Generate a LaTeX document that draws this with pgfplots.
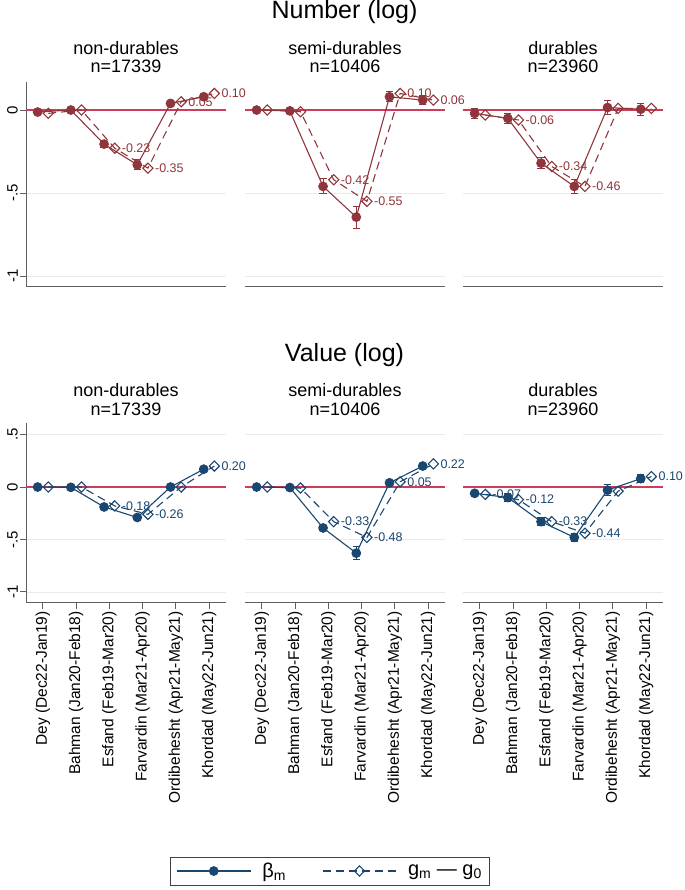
\documentclass[border=0pt]{standalone}
\usepackage{fontspec}
\setmainfont{Liberation Sans}
\usepackage{pgfplots}
\pgfplotsset{compat=1.18}
\definecolor{cran}{RGB}{144,53,59}
\definecolor{nav}{RGB}{26,71,111}
\definecolor{zred}{RGB}{205,60,90}
\definecolor{axgray}{RGB}{95,95,95}
\definecolor{gridgray}{RGB}{234,234,234}
\pgfplotsset{
  panel/.style={scale only axis, width=200bp, clip=false, xmin=0.49, xmax=6.51,
    axis x line*=bottom, axis y line*=left,
    x axis line style={-, draw=axgray, line width=1bp},
    y axis line style={-, draw=axgray, line width=1bp},
    tick align=outside, major tick length=6bp,
    tick style={draw=axgray, line width=1bp},
    ymajorgrids, grid style={draw=gridgray, line width=0.8bp},
    yticklabel style={rotate=90, anchor=south, font=\fontsize{15bp}{17bp}\selectfont, inner sep=2bp},
    xticklabel style={rotate=90, anchor=east, font=\fontsize{15.5bp}{17bp}\selectfont, inner sep=2bp},
  },
  toprow/.style={height=205bp, ymin=-1.066, ymax=0.169, ytick={-1,-0.5,0}, xtick=\empty},
  botrow/.style={height=180bp, ymin=-1.105, ymax=0.61, ytick={-1,-0.5,0,0.5}, xtick={1,2,3,4,5,6},
    xticklabels={Dey (Dec22-Jan19),Bahman (Jan20-Feb18),Esfand (Feb19-Mar20),Farvardin (Mar21-Apr20),Ordibehesht (Apr21-May21),Khordad (May22-Jun21)}},
  leftcoltop/.style={yticklabels={-1,-.5,0}},
  leftcolbot/.style={yticklabels={-1,-.5,0,.5}},
  othercol/.style={y axis line style={draw=none}, ytick style={draw=none}, yticklabels={}},
  zline/.style={zred, line width=1.2bp, forget plot},
  bser/.style={#1, line width=1.1bp, mark=*, mark size=4.3bp, mark options={solid, fill=#1},
    error bars/.cd, y dir=both, y explicit, error bar style={line width=1bp, #1},
    error mark options={rotate=90, mark size=3.6bp, line width=1bp, #1}},
  gser/.style={#1, line width=1.1bp, dash pattern=on 8bp off 5bp, mark=square, mark size=3.6bp,
    mark options={solid, rotate=45, fill=white, line width=1.1bp}},
  labs/.style={draw=none, mark=none, nodes near coords, point meta=explicit symbolic,
    nodes near coords style={anchor=west, text=#1, font=\fontsize{12.5bp}{14bp}\selectfont, inner sep=1bp, xshift=6bp}},
}
\begin{document}
\begin{tikzpicture}
\path[use as bounding box] (0bp,0bp) rectangle (685bp,890bp);
% titles
\node[anchor=base, font=\fontsize{25bp}{28bp}\selectfont] at (344.5bp,871.5bp) {Number (log)};
\node[anchor=base, font=\fontsize{25bp}{28bp}\selectfont] at (344.5bp,528bp) {Value (log)};
\foreach \cx/\nm/\nn in {126/non-durables/17339, 345/semi-durables/10406, 563/durables/23960}{
  \node[anchor=base, font=\fontsize{18bp}{20bp}\selectfont] at (\cx bp,835bp) {\nm};
  \node[anchor=base, font=\fontsize{18bp}{20bp}\selectfont] at (\cx bp,817bp) {n=\nn};
  \node[anchor=base, font=\fontsize{18bp}{20bp}\selectfont] at (\cx bp,493bp) {\nm};
  \node[anchor=base, font=\fontsize{18bp}{20bp}\selectfont] at (\cx bp,474bp) {n=\nn};
}
% ---------------- Top row: Number (log)
\begin{axis}[panel, toprow, leftcoltop, at={(26bp,603bp)}, anchor=south west]
\addplot[zline] coordinates {(0.49,0) (6.51,0)};
\addplot[bser=cran] coordinates {(0.84,-0.012) +- (0,0.012) (1.84,0.000) +- (0,0.01) (2.84,-0.205) +- (0,0.018) (3.84,-0.33) +- (0,0.03) (4.84,0.04) +- (0,0.018) (5.84,0.08) +- (0,0.018)};
\addplot[gser=cran] coordinates {(1.16,-0.02) (2.16,0.0) (3.16,-0.23) (4.16,-0.35) (5.16,0.05) (6.16,0.10)};
\addplot[labs=cran] coordinates {(3.16,-0.23) [-0.23] (4.16,-0.35) [-0.35] (5.16,0.05) [0.05] (6.16,0.10) [0.10]};
\end{axis}
\begin{axis}[panel, toprow, othercol, at={(245bp,603bp)}, anchor=south west]
\addplot[zline] coordinates {(0.49,0) (6.51,0)};
\addplot[bser=cran] coordinates {(0.84,0) +- (0,0.008) (1.84,-0.005) +- (0,0.01) (2.84,-0.46) +- (0,0.045) (3.84,-0.645) +- (0,0.066) (4.84,0.08) +- (0,0.03) (5.84,0.06) +- (0,0.025)};
\addplot[gser=cran] coordinates {(1.16,0) (2.16,-0.01) (3.16,-0.42) (4.16,-0.55) (5.16,0.10) (6.16,0.06)};
\addplot[labs=cran] coordinates {(3.16,-0.42) [-0.42] (4.16,-0.55) [-0.55] (5.16,0.10) [0.10] (6.16,0.06) [0.06]};
\end{axis}
\begin{axis}[panel, toprow, othercol, at={(463bp,603bp)}, anchor=south west]
\addplot[zline] coordinates {(0.49,0) (6.51,0)};
\addplot[bser=cran] coordinates {(0.84,-0.02) +- (0,0.03) (1.84,-0.05) +- (0,0.03) (2.84,-0.32) +- (0,0.035) (3.84,-0.46) +- (0,0.04) (4.84,0.015) +- (0,0.04) (5.84,0.005) +- (0,0.035)};
\addplot[gser=cran] coordinates {(1.16,-0.03) (2.16,-0.06) (3.16,-0.34) (4.16,-0.46) (5.16,0.01) (6.16,0.01)};
\addplot[labs=cran] coordinates {(2.16,-0.06) [-0.06] (3.16,-0.34) [-0.34] (4.16,-0.46) [-0.46]};
\end{axis}
% ---------------- Bottom row: Value (log)
\begin{axis}[panel, botrow, leftcolbot, at={(26bp,287bp)}, anchor=south west]
\addplot[zline] coordinates {(0.49,0) (6.51,0)};
\addplot[bser=nav] coordinates {(0.84,0) +- (0,0.008) (1.84,-0.003) +- (0,0.008) (2.84,-0.19) +- (0,0.015) (3.84,-0.29) +- (0,0.02) (4.84,0.0) +- (0,0.015) (5.84,0.17) +- (0,0.02)};
\addplot[gser=nav] coordinates {(1.16,0) (2.16,0) (3.16,-0.18) (4.16,-0.26) (5.16,0.0) (6.16,0.20)};
\addplot[labs=nav] coordinates {(3.16,-0.18) [-0.18] (4.16,-0.26) [-0.26] (6.16,0.20) [0.20]};
\end{axis}
\begin{axis}[panel, botrow, othercol, at={(245bp,287bp)}, anchor=south west]
\addplot[zline] coordinates {(0.49,0) (6.51,0)};
\addplot[bser=nav] coordinates {(0.84,0) +- (0,0.008) (1.84,-0.005) +- (0,0.008) (2.84,-0.39) +- (0,0.02) (3.84,-0.63) +- (0,0.065) (4.84,0.04) +- (0,0.025) (5.84,0.20) +- (0,0.02)};
\addplot[gser=nav] coordinates {(1.16,0) (2.16,-0.01) (3.16,-0.33) (4.16,-0.48) (5.16,0.05) (6.16,0.22)};
\addplot[labs=nav] coordinates {(3.16,-0.33) [-0.33] (4.16,-0.48) [-0.48] (5.16,0.05) [0.05] (6.16,0.22) [0.22]};
\end{axis}
\begin{axis}[panel, botrow, othercol, at={(463bp,287bp)}, anchor=south west]
\addplot[zline] coordinates {(0.49,0) (6.51,0)};
\addplot[bser=nav] coordinates {(0.84,-0.06) +- (0,0.03) (1.84,-0.10) +- (0,0.04) (2.84,-0.33) +- (0,0.04) (3.84,-0.48) +- (0,0.04) (4.84,-0.03) +- (0,0.05) (5.84,0.08) +- (0,0.04)};
\addplot[gser=nav] coordinates {(1.16,-0.07) (2.16,-0.12) (3.16,-0.33) (4.16,-0.44) (5.16,-0.04) (6.16,0.10)};
\addplot[labs=nav] coordinates {(1.16,-0.07) [-0.07] (2.16,-0.12) [-0.12] (3.16,-0.33) [-0.33] (4.16,-0.44) [-0.44] (6.16,0.10) [0.10]};
\end{axis}
% ---------------- Legend
\begin{axis}[at={(0bp,0bp)}, anchor=south west, scale only axis, width=685bp, height=890bp,
  xmin=0, xmax=1, ymin=0, ymax=1, hide axis,
  legend columns=2,
  legend image code/.code={\draw[mark repeat=2, mark phase=2, #1] plot coordinates {(0bp,0bp) (37bp,0bp) (74bp,0bp)};},
  legend style={at={(0.4818,0.0213)}, anchor=center, draw=black!75, line width=0.8bp,
    font=\fontsize{20bp}{22bp}\selectfont, inner xsep=6bp, inner ysep=4bp,
    nodes={inner sep=2bp},
    /tikz/every odd column/.append style={column sep=9bp},
    /tikz/every even column/.append style={column sep=34bp}},
  legend cell align=left]
\addlegendimage{nav, line width=1.1bp, mark=*, mark size=4.3bp, mark options={solid, fill=nav}}
\addlegendentry{β\textsubscript{m}}
\addlegendimage{nav, line width=1.1bp, dash pattern=on 8bp off 5bp, mark=square, mark size=3.6bp, mark options={solid, rotate=45, fill=white}}
\addlegendentry{g\textsubscript{m} — g\textsubscript{0}}
\end{axis}
\end{tikzpicture}
\end{document}
